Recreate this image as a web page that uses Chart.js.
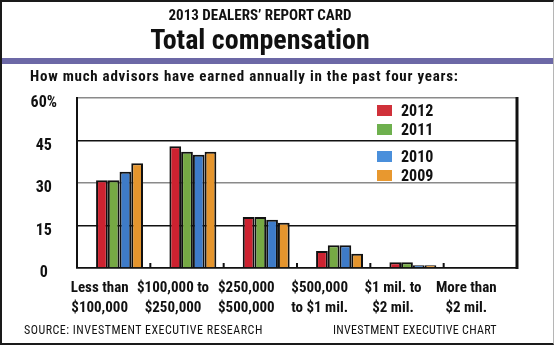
<!DOCTYPE html>
<html>
<head>
<meta charset="utf-8">
<script src="https://cdn.jsdelivr.net/npm/chart.js@4.4.0/dist/chart.umd.min.js"></script>
<style>
  html, body { margin: 0; padding: 0; background: #fff; }
  #wrap { position: relative; width: 555px; height: 345px; overflow: hidden; font-family: 'Roboto Condensed', 'Open Sans Condensed', sans-serif; color: #111; }
  #frame { position: absolute; left: 0; top: 0; width: 551px; height: 341px; border: 2px solid #1a1a1a; border-right: 1px solid #b5b5b5; }
  #band { position: absolute; left: 2px; top: 58px; width: 551px; height: 6px; background: #6c68a6; }
  canvas { position: absolute; left: 0; top: 0; }
  .txt { position: absolute; white-space: nowrap; }
  #kicker { left: 0; width: 520px; top: 6px; text-align: center; font-weight: bold; font-size: 15px; }
  #title { left: 0; width: 520px; top: 23px; text-align: center; font-weight: bold; font-size: 28px; }
  #sub { left: 30px; top: 67px; font-weight: bold; font-size: 15px; letter-spacing: 0.75px; }
  #source { left: 24px; top: 323px; font-size: 12px; letter-spacing: 0.5px; }
  #credit { left: 333px; top: 323px; font-size: 12px; letter-spacing: 0.27px; }
  #legend { position: absolute; left: 377px; top: 101px; }
  .row { position: absolute; left: 0; height: 19px; width: 80px; font-weight: bold; font-size: 16px; }
  .sw { position: absolute; left: 0; top: 4px; width: 15px; height: 11px; }
  .lab { position: absolute; left: 24px; top: 0; line-height: 19px; }
</style>
</head>
<body>
<div id="wrap">
  <canvas id="chart" width="555" height="345"></canvas>
  <div id="frame"></div>
  <div id="band"></div>
  <div class="txt" id="kicker">2013 DEALERS’ REPORT CARD</div>
  <div class="txt" id="title">Total compensation</div>
  <div class="txt" id="sub">How much advisors have earned annually in the past four years:</div>
  <div id="legend"></div>
  <div class="txt" id="source">SOURCE: INVESTMENT EXECUTIVE RESEARCH</div>
  <div class="txt" id="credit">INVESTMENT EXECUTIVE CHART</div>
</div>
<script>
// income brackets
const categories = [
    ['Less than', '$100,000'],
    ['$100,000 to', '$250,000'],
    ['$250,000', '$500,000'],
    ['$500,000', 'to $1 mil.'],
    ['$1 mil. to', '$2 mil.'],
    ['More than', '$2 mil.'],
];
const years = ['2012', '2011', '2010', '2009'];

// share of advisors, %
const values2012 = [31, 43, 18, 6, 2, 0];
const values2011 = [31, 41, 18, 8, 2, 0];
const values2010 = [34, 40, 17, 8, 1, 0];
const values2009 = [37, 41, 16, 5, 1, 0];

const yTicks = [0, 15, 30, 45, 60];

const seriesValues = [values2012, values2011, values2010, values2009];
const seriesColors = ['#cd2230', '#76a944', '#3e7bc8', '#e5952d'];
const legendColors = ['#d0313a', '#6eb04e', '#4a8fdb', '#e8982f'];

const FONT = "'Roboto Condensed', 'Open Sans Condensed', sans-serif";

// legend, in two pairs like the print version
const legend = document.getElementById('legend');
const rowTops = [0, 19, 46, 65];
years.forEach((y, i) => {
    const row = document.createElement('div');
    row.className = 'row';
    row.style.top = rowTops[i] + 'px';
    row.innerHTML = `<div class="sw" style="background:${legendColors[i]}"></div><div class="lab">${y}</div>`;
    legend.appendChild(row);
});

// small marks between the groups + heavy right edge
const frameMarks = {
    id: 'frameMarks',
    afterDatasetsDraw(chart) {
        const { ctx, chartArea, scales } = chart;
        const x = scales.x;
        ctx.save();
        ctx.strokeStyle = '#111';
        ctx.lineWidth = 2;
        for (let i = 1; i < categories.length; i++) {
            const px = (x.getPixelForValue(i - 1) + x.getPixelForValue(i)) / 2;
            ctx.beginPath();
            ctx.moveTo(px, chartArea.bottom);
            ctx.lineTo(px, chartArea.bottom - 5);
            ctx.stroke();
        }
        ctx.lineWidth = 3;
        ctx.beginPath();
        ctx.moveTo(chartArea.right, chartArea.top - 1);
        ctx.lineTo(chartArea.right, chartArea.bottom + 1);
        ctx.stroke();
        ctx.restore();
    },
};

// empty first slot pushes the four bars to the right of each group
const datasets = [{ label: '', data: categories.map(() => null), backgroundColor: 'transparent' }];
years.forEach((y, i) => {
    datasets.push({
        label: y,
        data: seriesValues[i],
        backgroundColor: seriesColors[i],
        borderColor: '#111',
        borderWidth: 2,
        borderSkipped: 'bottom',
    });
});

new Chart(document.getElementById('chart'), {
    type: 'bar',
    data: { labels: categories, datasets: datasets },
    options: {
        responsive: false,
        animation: false,
        events: [],
        layout: { padding: { top: 98, right: 38, bottom: 25, left: 0 } },
        datasets: { bar: { categoryPercentage: 0.8, barPercentage: 1.0 } },
        plugins: { legend: { display: false }, tooltip: { enabled: false } },
        scales: {
            x: {
                afterFit: s => { s.height = 52; },
                grid: { display: false, drawTicks: false },
                border: { color: '#111', width: 1.5 },
                ticks: {
                    color: '#111',
                    padding: 10,
                    labelOffset: -14,
                    maxRotation: 0,
                    autoSkip: false,
                    font: { family: FONT, size: 15, weight: 'bold', lineHeight: 1.33 },
                },
            },
            y: {
                min: 0,
                max: 60,
                afterFit: s => { s.width = 77; },
                afterBuildTicks: s => { s.ticks = yTicks.map(v => ({ value: v })); },
                grid: {
                    drawTicks: false,
                    lineWidth: 1.5,
                    color: c => (c.tick && (c.tick.value === 30 || c.tick.value === 60)) ? '#8a8a8a' : '#111',
                },
                border: { color: '#111', width: 2 },
                ticks: {
                    color: '#111',
                    padding: 20,
                    crossAlign: 'center',
                    labelOffset: 5,
                    callback: v => v === 60 ? '60%' : v,
                    font: { family: FONT, size: 16, weight: 'bold' },
                },
            },
        },
    },
    plugins: [frameMarks],
});
</script>
</body>
</html>
